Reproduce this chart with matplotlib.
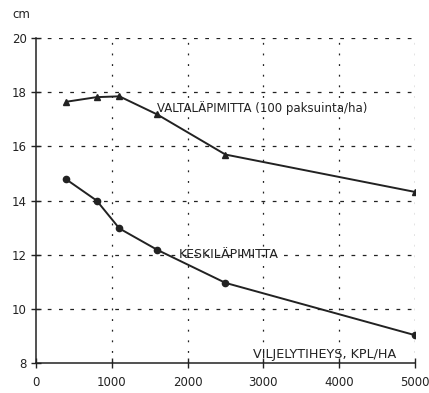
import matplotlib
matplotlib.use("Agg")
import matplotlib.pyplot as plt

# Stand density (trees/ha) vs. diameter (cm)
density = [400, 800, 1100, 1600, 2500, 5000]
dominant_diam = [17.65, 17.82, 17.85, 17.18, 15.70, 14.32]
mean_diam = [14.78, 14.00, 12.97, 12.18, 10.96, 9.03]

x_ticks = [0, 1000, 2000, 3000, 4000, 5000]
y_ticks = [8, 10, 12, 14, 16, 18, 20]

INK = "#222222"

fig = plt.figure(figsize=(4.29, 3.93), dpi=100)
ax = fig.add_axes([0.084, 0.0763, 0.883, 0.8267])

ax.plot(density, dominant_diam, color=INK, lw=1.4, marker="^", ms=5, zorder=3)
ax.plot(density, mean_diam, color=INK, lw=1.4, marker="o", ms=4.5, zorder=3)

ax.set_xlim(0, 5000)
ax.set_ylim(8, 20)
ax.set_xticks(x_ticks)
ax.set_yticks(y_ticks)
ax.tick_params(direction="inout", length=7, width=1.0, colors=INK,
               labelsize=8.5, pad=3)
ax.tick_params(axis="x", pad=6)

# dashed horizontal grid, dotted vertical grid
for y in y_ticks[1:]:
    ax.axhline(y, color=INK, lw=0.9, dashes=(3, 6), zorder=1)
for x in x_ticks[1:]:
    ax.axvline(x, color=INK, lw=0.9, dashes=(1.5, 7), zorder=1)

for side in ("top", "right"):
    ax.spines[side].set_visible(False)
for side in ("left", "bottom"):
    ax.spines[side].set_color(INK)
    ax.spines[side].set_linewidth(1.1)

ax.text(1600, 17.42, "VALTALÄPIMITTA (100 paksuinta/ha)", fontsize=8.5,
        color=INK, va="center", ha="left")
ax.text(1880, 12.0, "KESKILÄPIMITTA", fontsize=9, color=INK,
        va="center", ha="left", zorder=4)
ax.text(2860, 8.32, "VILJELYTIHEYS, KPL/HA", fontsize=9.2, color=INK,
        va="center", ha="left")
fig.text(0.028, 0.962, "cm", fontsize=8.5, color=INK, va="center", ha="left")

fig.savefig("out.png", dpi=100)
